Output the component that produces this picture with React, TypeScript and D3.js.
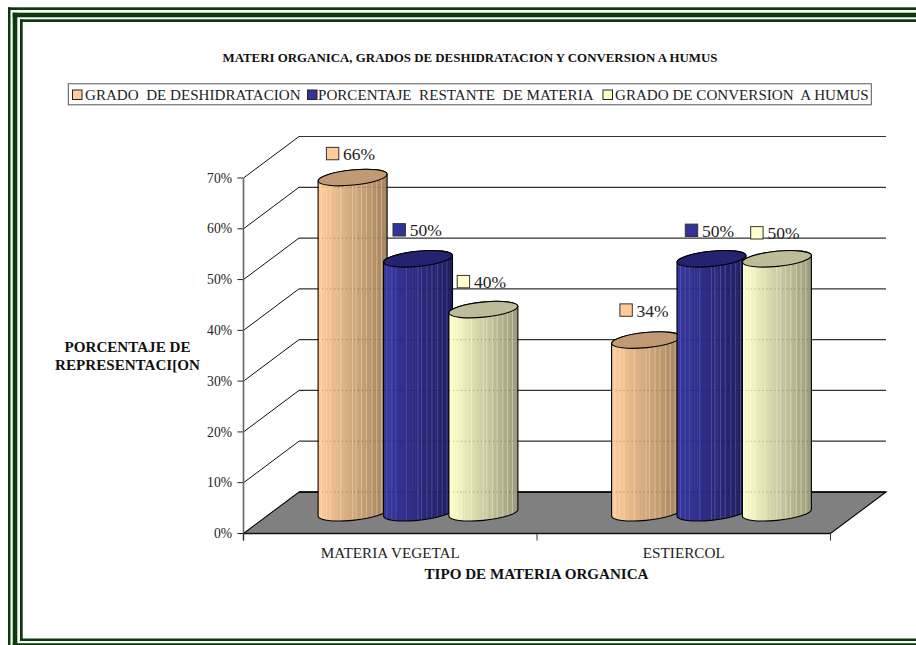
import React from "react";
import * as d3 from "d3";

// Chart data
const categories = ["MATERIA VEGETAL", "ESTIERCOL"];
const seriesNames = [
  "GRADO  DE DESHIDRATACION",
  "PORCENTAJE  RESTANTE  DE MATERIA",
  "GRADO DE CONVERSION  A HUMUS",
];
const deshidratacion = [0.66, 0.34];
const restante = [0.5, 0.5];
const conversion = [0.4, 0.5];
const seriesValues = [deshidratacion, restante, conversion];
const yTickValues = [0, 0.1, 0.2, 0.3, 0.4, 0.5, 0.6, 0.7];

const chartTitle = "MATERI ORGANICA, GRADOS DE DESHIDRATACION Y CONVERSION A HUMUS";
const yTitleLines = ["PORCENTAJE DE", "REPRESENTACI[ON"];
const xTitle = "TIPO DE MATERIA ORGANICA";

// Series styling: side light edge, side dark edge, cap fill, pale rib colour
const sideLight = ["#FFCC99", "#36369E", "#FFFFCC"];
const sideDark = ["#A4855F", "#1F1F5E", "#9C9C7C"];
const capFill = ["#BF9A73", "#232372", "#BDBD99"];
const ribColor = ["#FFE6CC", "#7C7CD0", "#FFFFF0"];
const legendKeyFill = ["#FFCC99", "#333399", "#FFFFCC"];

// Layout
const WIDTH = 916;
const HEIGHT = 645;
const DEPTH_X = 55.5;
const DEPTH_Y = 41.5;
const FRONT_LEFT = 243.5;
const FRONT_RIGHT = 830.5;
const BAR_STEP = 65.4;
const CYL_HALF = 34.5;
const CYL_RX = 34.6;
const CYL_RY = 7.55;
const CYL_TILT = -5.7;
const CYL_SKEW = 3.25;
const FONT = "'Liberation Serif', 'Times New Roman', serif";
const INK = "#222";
const FRAME = "#0B3B0B";

// Vertical shading of each cylinder side
const ribStops = [0.05, 0.12, 0.18, 0.33, 0.5, 0.55, 0.63, 0.7, 0.78, 0.85, 0.92];
const shadeSteps = d3.range(24);

// Data label placement per category and series (key centre relative to the cap centre)
const labelLift = [
  [24, 29, 28],
  [30, 28.5, 26],
];
const labelShift = [
  [-20, -18.8, -20],
  [-20, -20, -20],
];

const legendEntries = [
  { keyX: 72.5, textX: 85 },
  { keyX: 307.5, textX: 318 },
  { keyX: 603, textX: 615 },
];

const x = d3.scaleBand<string>().domain(categories).range([FRONT_LEFT, FRONT_RIGHT]);
const y = d3.scaleLinear().domain([0, 0.7]).range([533.5, 178]);
const pct = d3.format(".0%");

function cylinderBody(cx: number, top: number, base: number) {
  const l = cx - CYL_HALF;
  const r = cx + CYL_HALF;
  const p = d3.path();
  p.moveTo(l, top + CYL_SKEW);
  p.lineTo(l, base + CYL_SKEW);
  const arc = `A${CYL_RX} ${CYL_RY} ${CYL_TILT} 0 0 ${r} ${base - CYL_SKEW}`;
  return `${p.toString()}${arc}L${r} ${top - CYL_SKEW}A${CYL_RX} ${CYL_RY} ${CYL_TILT} 0 0 ${l} ${top + CYL_SKEW}Z`;
}

function Cylinder({ id, s, cx, value }: { id: string; s: number; cx: number; value: number }) {
  const base = y(0) - DEPTH_Y / 2;
  const top = y(value) - DEPTH_Y / 2;
  const body = cylinderBody(cx, top, base);
  const shade = d3.interpolateRgb(sideLight[s], sideDark[s]);
  const xPos = d3.scaleLinear().domain([0, 1]).range([cx - CYL_HALF, cx + CYL_HALF]);
  const n = shadeSteps.length;
  return (
    <g>
      <clipPath id={id}>
        <path d={body} />
      </clipPath>
      <g clipPath={`url(#${id})`}>
        {shadeSteps.map((i) => (
          <rect
            key={i}
            x={xPos(i / n)}
            y={top - 12}
            width={xPos(1 / n) - xPos(0) + 0.5}
            height={base - top + 30}
            fill={shade(i / (n - 1))}
          />
        ))}
        {ribStops.map((f) => (
          <line
            key={f}
            x1={xPos(f)}
            x2={xPos(f)}
            y1={top}
            y2={base + 12}
            stroke={ribColor[s]}
            strokeOpacity={0.45}
            strokeWidth={0.9}
          />
        ))}
        {/* Wall lines faintly showing through the cylinder */}
        {yTickValues.map((t) => (
          <line
            key={t}
            x1={cx - CYL_HALF}
            x2={cx + CYL_HALF}
            y1={y(t) - DEPTH_Y}
            y2={y(t) - DEPTH_Y}
            stroke="#000"
            strokeOpacity={0.3}
            strokeDasharray="1 3"
          />
        ))}
      </g>
      <path d={body} fill="none" stroke="#000" strokeWidth={1.1} />
      <ellipse
        cx={cx}
        cy={top}
        rx={CYL_RX}
        ry={CYL_RY}
        transform={`rotate(${CYL_TILT} ${cx} ${top})`}
        fill={capFill[s]}
        stroke="#000"
        strokeWidth={1.1}
      />
    </g>
  );
}

export default function App() {
  const backLeft = FRONT_LEFT + DEPTH_X;
  const backRight = FRONT_RIGHT + DEPTH_X;
  const floorBack = y(0) - DEPTH_Y;
  const centers = categories.map((c) => (x(c) as number) + x.bandwidth() / 2 + DEPTH_X / 2);
  const barX = (c: number, s: number) => centers[c] + (s - 1) * BAR_STEP;

  return (
    <svg
      width={WIDTH}
      height={HEIGHT}
      viewBox={`0 0 ${WIDTH} ${HEIGHT}`}
      style={{ position: "absolute", left: 0, top: 0, display: "block", background: "#fff", fontFamily: FONT }}
    >
      {/* Triple green frame, running off the right and bottom edges */}
      <g fill={FRAME}>
        <rect x={8} y={7.3} width={WIDTH} height={2.7} />
        <rect x={12.7} y={12.7} width={WIDTH} height={4.6} />
        <rect x={20} y={19.3} width={WIDTH} height={2.7} />
        <rect x={8} y={7.3} width={2.5} height={HEIGHT} />
        <rect x={12.7} y={12.7} width={4.6} height={HEIGHT} />
        <rect x={20} y={19.3} width={2.7} height={621.7} />
        <rect x={20} y={638.5} width={WIDTH} height={2.5} />
        <rect x={12.7} y={643.2} width={WIDTH} height={2} />
      </g>

      <text x={470} y={62} textAnchor="middle" fontSize={12.9} fontWeight="bold" fill="#111">
        {chartTitle}
      </text>

      {/* Legend */}
      <rect x={68.3} y={83.8} width={803} height={21} fill="#fff" stroke="#555" strokeWidth={1} />
      {seriesNames.map((name, s) => (
        <g key={name}>
          <rect
            x={legendEntries[s].keyX}
            y={90}
            width={9.5}
            height={9.5}
            fill={legendKeyFill[s]}
            stroke="#222"
            strokeWidth={1}
          />
          <text x={legendEntries[s].textX} y={100} fontSize={15.1} fill={INK} style={{ whiteSpace: "pre" }}>
            {name}
          </text>
        </g>
      ))}

      {/* Back wall gridlines and their depth edges */}
      {yTickValues.map((t) => (
        <g key={t}>
          <line x1={FRONT_LEFT - 6} x2={FRONT_LEFT} y1={y(t)} y2={y(t)} stroke="#222" strokeWidth={1} />
          {t > 0 && (
            <line x1={FRONT_LEFT} x2={backLeft} y1={y(t)} y2={y(t) - DEPTH_Y} stroke="#111" strokeWidth={1} />
          )}
          {t > 0 && (
            <line x1={backLeft} x2={backRight} y1={y(t) - DEPTH_Y} y2={y(t) - DEPTH_Y} stroke="#333" strokeWidth={1.2} />
          )}
          <text x={232} y={y(t) + 4.6} textAnchor="end" fontSize={13.6} fill={INK}>
            {pct(t)}
          </text>
        </g>
      ))}

      {/* Floor */}
      <path
        d={`M${FRONT_LEFT} ${y(0)}L${backLeft} ${floorBack}L${backRight} ${floorBack}L${FRONT_RIGHT} ${y(0)}Z`}
        fill="#808080"
        stroke="#000"
        strokeWidth={1.1}
      />
      <line x1={backLeft} x2={backRight} y1={floorBack} y2={floorBack} stroke="#000" strokeWidth={1.4} />

      {/* Axes */}
      <line x1={FRONT_LEFT} x2={FRONT_LEFT} y1={y(0.7)} y2={y(0) + 7} stroke="#666" strokeWidth={1.6} />
      <line x1={FRONT_LEFT} x2={FRONT_RIGHT} y1={y(0)} y2={y(0)} stroke="#111" strokeWidth={1.4} />
      {[FRONT_LEFT, ...categories.map((c) => (x(c) as number) + x.bandwidth())].map((tx) => (
        <line key={tx} x1={tx} x2={tx} y1={y(0)} y2={y(0) + 7} stroke="#333" strokeWidth={1} />
      ))}

      {/* Cylinders */}
      {categories.map((cat, c) =>
        seriesValues.map((vals, s) => (
          <Cylinder key={`${cat}-${s}`} id={`cyl-${c}-${s}`} s={s} cx={barX(c, s)} value={vals[c]} />
        ))
      )}

      {/* Data labels with legend keys */}
      {categories.map((cat, c) =>
        seriesValues.map((vals, s) => {
          const kx = barX(c, s) + labelShift[c][s];
          const ky = y(vals[c]) - DEPTH_Y / 2 - labelLift[c][s];
          return (
            <g key={`${cat}-label-${s}`}>
              <rect
                x={kx - 6.2}
                y={ky - 6.2}
                width={12.4}
                height={12.4}
                fill={legendKeyFill[s]}
                stroke="#333"
                strokeWidth={1}
              />
              <text x={kx + 10.5} y={ky + 6.6} fontSize={17.5} fill={INK}>
                {pct(vals[c])}
              </text>
            </g>
          );
        })
      )}

      {/* Axis titles and category labels */}
      {categories.map((cat) => (
        <text
          key={cat}
          x={(x(cat) as number) + x.bandwidth() / 2}
          y={558}
          textAnchor="middle"
          fontSize={15.2}
          fill={INK}
        >
          {cat}
        </text>
      ))}
      <text x={536.5} y={579} textAnchor="middle" fontSize={15.1} fontWeight="bold" fill="#111">
        {xTitle}
      </text>
      {yTitleLines.map((line, i) => (
        <text key={line} x={127.5} y={352 + i * 18} textAnchor="middle" fontSize={15.1} fontWeight="bold" fill="#111">
          {line}
        </text>
      ))}
    </svg>
  );
}
